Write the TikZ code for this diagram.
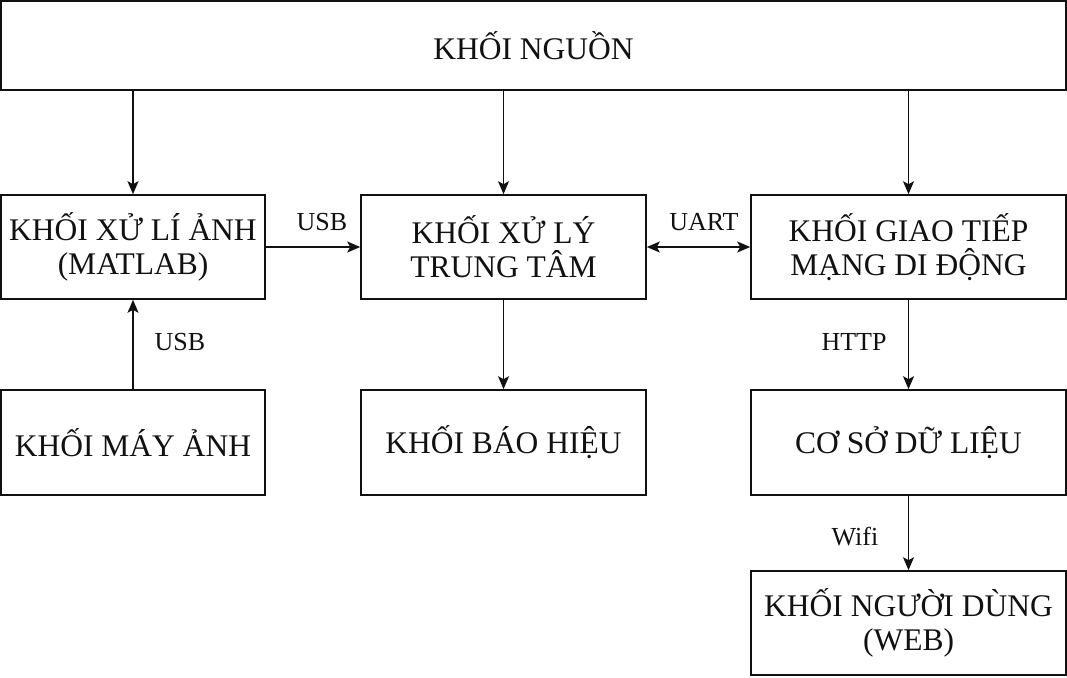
\documentclass[tikz,border=0pt]{standalone}
\usepackage{fontspec}
\setmainfont{Liberation Serif}
\usepackage{xcolor}
\usetikzlibrary{arrows.meta,calc}
\definecolor{BlockInk}{HTML}{111111}
\tikzset{
  khoi box/.style={
    draw=BlockInk,
    line width=1.6pt,
    rectangle,
    align=center,
    inner sep=2pt,
    font=\fontsize{31.5}{34}\selectfont,
    text=BlockInk
  },
  khoi arr/.style={-{Stealth[length=13pt, width=11pt, inset=3pt]}, line width=1.6pt, BlockInk},
  khoi biarr/.style={{Stealth[length=13pt, width=11pt, inset=3pt]}-{Stealth[length=13pt, width=11pt, inset=3pt]}, line width=1.6pt, BlockInk},
  khoi label/.style={font=\fontsize{26}{29}\selectfont, text=BlockInk, inner sep=0pt}
}
\begin{document}
\begin{tikzpicture}[x=1pt, y=-1pt]
  \useasboundingbox (0,0) rectangle (1067,677);

  % khoi nguon
  \node[khoi box, minimum width=1065pt, minimum height=89pt] (nguon) at (533.5,45.5)
    {KHỐI NGUỒN};

  % hang 2
  \node[khoi box, minimum width=264pt, minimum height=104pt] (xuli) at (133,247)
    {KHỐI XỬ LÍ ẢNH\\(MATLAB)};
  \node[khoi box, minimum width=285pt, minimum height=104pt] (trungtam) at (503.5,247)
    {KHỐI XỬ LÝ\\TRUNG TÂM};
  \node[khoi box, minimum width=315pt, minimum height=104pt] (giaotiep) at (908.5,247)
    {KHỐI GIAO TIẾP\\MẠNG DI ĐỘNG};

  % hang 3
  \node[khoi box, minimum width=264pt, minimum height=105pt] (mayanh) at (133,442.5)
    {KHỐI MÁY ẢNH};
  \node[khoi box, minimum width=285pt, minimum height=105pt] (baohieu) at (503.5,442.5)
    {KHỐI BÁO HIỆU};
  \node[khoi box, minimum width=315pt, minimum height=105pt] (csdl) at (908.5,442.5)
    {CƠ SỞ DỮ LIỆU};

  % hang 4
  \node[khoi box, minimum width=315pt, minimum height=104pt] (nguoidung) at (908.5,623)
    {KHỐI NGƯỜI DÙNG\\(WEB)};

  % nguon xuong
  \draw[khoi arr] (xuli.north |- nguon.south) -- (xuli.north);
  \draw[khoi arr] (trungtam.north |- nguon.south) -- (trungtam.north);
  \draw[khoi arr] (giaotiep.north |- nguon.south) -- (giaotiep.north);

  % ket noi
  \draw[khoi arr] (xuli.east) -- (trungtam.west);
  \node[khoi label] (usbtren) at (322,222) {USB};
  \draw[khoi biarr] (trungtam.east) -- (giaotiep.west);
  \node[khoi label] (uart) at (704,222) {UART};
  \draw[khoi arr] (mayanh.north) -- (xuli.south);
  \node[khoi label] (usbduoi) at (180,342) {USB};
  \draw[khoi arr] (trungtam.south) -- (baohieu.north);
  \draw[khoi arr] (giaotiep.south) -- (csdl.north);
  \node[khoi label] (http) at (854,342) {HTTP};
  \draw[khoi arr] (csdl.south) -- (nguoidung.north);
  \node[khoi label] (wifi) at (855,537) {Wifi};
\end{tikzpicture}
\end{document}
